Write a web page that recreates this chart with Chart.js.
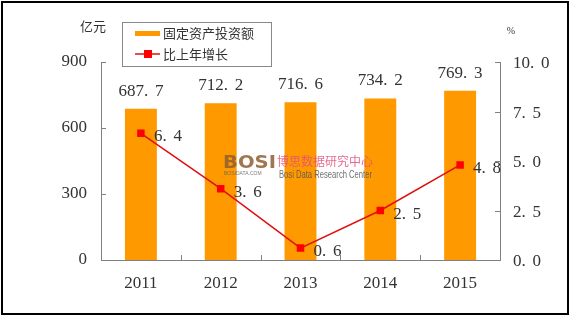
<!DOCTYPE html>
<html><head><meta charset="utf-8">
<script src="https://cdn.jsdelivr.net/npm/chart.js@4/dist/chart.umd.min.js"></script>
<style>html,body{margin:0;padding:0;background:#fff;}#wrap{width:571px;height:316px;position:relative;}</style>
</head><body><div id="wrap"><canvas id="c" width="571" height="316"></canvas></div>
<script>
const categories = ['2011','2012','2013','2014','2015'];
const investment = [687.7, 712.2, 716.6, 734.2, 769.3];
const growth = [6.4, 3.6, 0.6, 2.5, 4.8];
const seriesNames = ['固定资产投资额','比上年增长'];
const leftUnit = '亿元';
const rightUnit = '%';

const SERIF = '"Liberation Serif","DejaVu Serif",serif';
const CJK = '"Noto Sans CJK SC",sans-serif';
const TXT = '#333';

// draw a decimal number with a wide (SimSun-like) decimal point
function drawNum(ctx, str, x, y, align){
  const fs = 17;
  ctx.font = fs+'px '+SERIF;
  const parts = str.split('.');
  const w1 = ctx.measureText(parts[0]).width;
  const pw = parts.length>1 ? 11 : 0;
  const w2 = parts.length>1 ? ctx.measureText(parts[1]).width : 0;
  const tot = w1+pw+w2;
  let sx = align==='center' ? x - tot/2 : (align==='right' ? x - tot : x);
  ctx.textAlign='left'; ctx.textBaseline='alphabetic';
  ctx.fillText(parts[0], sx, y);
  if(parts.length>1){
    ctx.fillText('.', sx+w1, y);
    ctx.fillText(parts[1], sx+w1+pw, y);
  }
}

const decor = {
  id:'decor',
  afterDraw(chart){
    const ctx = chart.ctx, ca = chart.chartArea;
    const y = chart.scales.y, y1 = chart.scales.y1;
    ctx.save();
    // inward ticks
    ctx.strokeStyle = '#808080'; ctx.lineWidth = 1;
    y.ticks.forEach((t,i)=>{const py=Math.round(y.getPixelForTick(i))+0.5;ctx.beginPath();ctx.moveTo(ca.left,py);ctx.lineTo(ca.left+5,py);ctx.stroke();});
    y1.ticks.forEach((t,i)=>{const py=Math.round(y1.getPixelForTick(i))+0.5;ctx.beginPath();ctx.moveTo(ca.right,py);ctx.lineTo(ca.right-5,py);ctx.stroke();});
    const n = categories.length, w = (ca.right-ca.left)/n;
    for(let i=1;i<n;i++){const px=Math.round(ca.left+i*w)+0.5;ctx.beginPath();ctx.moveTo(px,ca.bottom);ctx.lineTo(px,ca.bottom-5);ctx.stroke();}
    // right axis tick labels
    ctx.fillStyle = TXT;
    y1.ticks.forEach((t,i)=>{const py=y1.getPixelForTick(i); drawNum(ctx, Number(t.value).toFixed(1), ca.right+13, py+6, 'left');});
    // value labels
    const mb = chart.getDatasetMeta(1);
    mb.data.forEach((el,i)=>{drawNum(ctx, investment[i].toFixed(1), el.x, el.y-13, 'center');});
    const ml = chart.getDatasetMeta(0);
    ml.data.forEach((el,i)=>{drawNum(ctx, growth[i].toFixed(1), el.x+13, el.y+8, 'left');});
    // units
    ctx.font = '13px '+CJK; ctx.fillStyle=TXT; ctx.textAlign='center'; ctx.textBaseline='middle';
    ctx.fillText(leftUnit, 93, 26);
    ctx.font = '10px '+SERIF; ctx.fillText(rightUnit, 511, 31);
    // legend
    ctx.strokeStyle='#888'; ctx.lineWidth=1;
    ctx.strokeRect(122.5,22.5,149,44);
    ctx.fillStyle='#FF9900'; ctx.fillRect(135,31,25,5);
    ctx.strokeStyle='#E01010'; ctx.lineWidth=1.5;
    ctx.beginPath(); ctx.moveTo(135,54); ctx.lineTo(160,54); ctx.stroke();
    ctx.fillStyle='#FF0000'; ctx.fillRect(144,50,8,8);
    ctx.fillStyle=TXT; ctx.font='13px '+CJK; ctx.textAlign='left'; ctx.textBaseline='middle';
    ctx.fillText(seriesNames[0], 163, 33);
    ctx.fillText(seriesNames[1], 163, 54);
    // watermark
    ctx.globalAlpha = 0.85; ctx.textBaseline='alphabetic'; ctx.textAlign='left';
    ctx.save();
    ctx.font = 'bold 17px "DejaVu Sans",sans-serif';
    const bw = ctx.measureText('BOSI').width;
    ctx.translate(223,168); ctx.scale(53/bw,1);
    ctx.fillStyle='#8e5e30'; ctx.fillText('BOSI', 0, 0);
    ctx.restore();
    ctx.font = '5px sans-serif'; ctx.fillStyle='#666'; ctx.fillText('BOSIDATA.COM', 224, 175);
    ctx.font = '12px '+CJK; ctx.fillStyle='#e0507a'; ctx.fillText('博思数据研究中心', 277, 166);
    ctx.save();
    ctx.font = '11px "Liberation Sans",sans-serif';
    const ew = ctx.measureText('Bosi Data Research Center').width;
    ctx.translate(279,178); ctx.scale(93/ew,1);
    ctx.fillStyle='#555'; ctx.fillText('Bosi Data Research Center', 0, 0);
    ctx.restore();
    ctx.globalAlpha = 1;
    // outer border
    ctx.strokeStyle='#000'; ctx.lineWidth=2;
    ctx.strokeRect(2,2,566,312);
    ctx.restore();
  }
};

new Chart(document.getElementById('c'), {
  data:{
    labels: categories,
    datasets:[
      {type:'line', label:seriesNames[1], data:growth, yAxisID:'y1', borderColor:'#E01010', borderWidth:1.5, backgroundColor:'#FF0000', pointStyle:'rect', pointRadius:5.3, pointBorderWidth:0, pointBackgroundColor:'#FF0000', pointBorderColor:'#FF0000', order:0, tension:0},
      {type:'bar', label:seriesNames[0], data:investment, yAxisID:'y', backgroundColor:'#FF9900', barPercentage:0.4, categoryPercentage:1, order:1}
    ]
  },
  plugins:[decor],
  options:{
    responsive:false, animation:false, devicePixelRatio:1,
    layout:{padding:{top:62,left:0,right:0,bottom:0}},
    plugins:{legend:{display:false}, tooltip:{enabled:false}},
    scales:{
      x:{grid:{display:false,drawTicks:false}, border:{color:'#808080'}, ticks:{color:TXT,font:{family:SERIF,size:17},padding:13}, afterFit(s){s.height=56;}},
      y:{position:'left', min:0, max:900, grid:{display:false,drawTicks:false}, border:{color:'#808080'}, ticks:{stepSize:300,color:TXT,font:{family:SERIF,size:17},padding:14}, afterFit(s){s.width=101;}},
      y1:{position:'right', min:0, max:10, grid:{display:false,drawTicks:false}, border:{color:'#808080'}, ticks:{stepSize:2.5,display:false}, afterFit(s){s.width=71;}}
    }
  }
});
</script></body></html>
